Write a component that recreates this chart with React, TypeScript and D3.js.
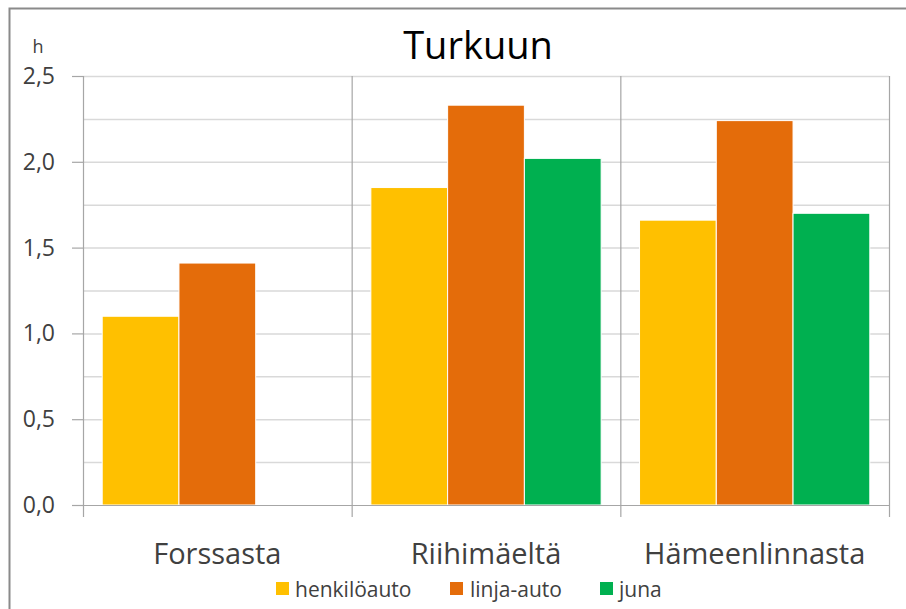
import React from "react";
import * as d3 from "d3";

const categories = ["Forssasta", "Riihimäeltä", "Hämeenlinnasta"];
const seriesNames = ["henkilöauto", "linja-auto", "juna"];
const henkiloauto = [1.1, 1.85, 1.66];
const linjaAuto = [1.41, 2.33, 2.24];
const juna: (number | null)[] = [null, 2.02, 1.7];
const yTicks = [0, 0.5, 1.0, 1.5, 2.0, 2.5];
const yGrid = [0.25, 0.5, 0.75, 1.0, 1.25, 1.5, 1.75, 2.0, 2.25, 2.5];
const colors = ["#FFC000", "#E46C0A", "#00B050"];

const W = 906;
const H = 609;
const FONT = "'Open Sans', 'Noto Sans', sans-serif";

export default function App() {
  const series = [henkiloauto, linjaAuto, juna];
  const left = 83, right = 889, top = 76, bottom = 505;
  const x0 = d3.scaleBand<string>().domain(categories).range([left, right]).paddingInner(0).paddingOuter(0);
  const x1 = d3.scaleBand<string>().domain(seriesNames).range([0, x0.bandwidth()]).paddingInner(0).paddingOuter(0.25);
  const y = d3.scaleLinear().domain([0, 2.5]).range([bottom, top]);
  const fmt = (v: number) => d3.format(".1f")(v).replace(".", ",");

  return (
    <svg width={W} height={H} style={{ position: "absolute", left: 0, top: 0 }} fontFamily={FONT}>
      <rect x={0} y={0} width={W} height={H} fill="#fff" />
      <rect x={9.5} y={8.5} width={W + 20} height={H + 20} fill="none" stroke="#8a8a8a" strokeWidth={2} />
      <text x={478} y={59} textAnchor="middle" fontSize={38} fill="#000">Turkuun</text>
      {yGrid.map((v) => (
        <line key={"g" + v} x1={left} x2={right} y1={y(v) + 0.5} y2={y(v) + 0.5} stroke="#d9d9d9" strokeWidth={1.5} />
      ))}
      {categories.map((c, i) => i > 0 ? (
        <line key={"s" + c} x1={x0(c)! + 0.5} x2={x0(c)! + 0.5} y1={top} y2={bottom + 12} stroke="#a6a6a6" strokeWidth={1.2} />
      ) : null)}
      <line x1={right + 0.5} x2={right + 0.5} y1={top} y2={bottom + 12} stroke="#a6a6a6" strokeWidth={1.2} />
      {categories.map((c, ci) =>
        series.map((s, si) => {
          const v = s[ci];
          if (v == null) return null;
          const bx = x0(c)! + x1(seriesNames[si])!;
          return (
            <rect key={c + si} x={bx} y={y(v)} width={x1.bandwidth()} height={bottom - y(v)}
              fill={colors[si]} stroke="#fff" strokeWidth={1} />
          );
        })
      )}
      <line x1={left - 11} x2={right} y1={bottom + 0.5} y2={bottom + 0.5} stroke="#a6a6a6" strokeWidth={1.2} />
      <line x1={left + 0.5} x2={left + 0.5} y1={top} y2={bottom + 12} stroke="#a6a6a6" strokeWidth={1.2} />
      {yTicks.map((v) => (
        <g key={"t" + v}>
          <line x1={left - 11} x2={left} y1={y(v) + 0.5} y2={y(v) + 0.5} stroke="#a6a6a6" strokeWidth={1.2} />
          <text x={55} y={y(v) + 8} textAnchor="end" fontSize={23} fill="#404040">{fmt(v)}</text>
        </g>
      ))}
      <text x={38} y={53} textAnchor="middle" fontSize={18} fill="#404040">h</text>
      {categories.map((c) => (
        <text key={"c" + c} x={x0(c)! + x0.bandwidth() / 2} y={564} textAnchor="middle" fontSize={29} fill="#404040">{c}</text>
      ))}
      {(() => {
        const items = [
          { x: 276, tx: 295 },
          { x: 450, tx: 470 },
          { x: 600, tx: 619 },
        ];
        return seriesNames.map((n, i) => (
          <g key={"l" + n}>
            <rect x={items[i].x} y={582} width={13} height={13} fill={colors[i]} />
            <text x={items[i].tx} y={597} fontSize={21} fill="#404040">{n}</text>
          </g>
        ));
      })()}
    </svg>
  );
}
